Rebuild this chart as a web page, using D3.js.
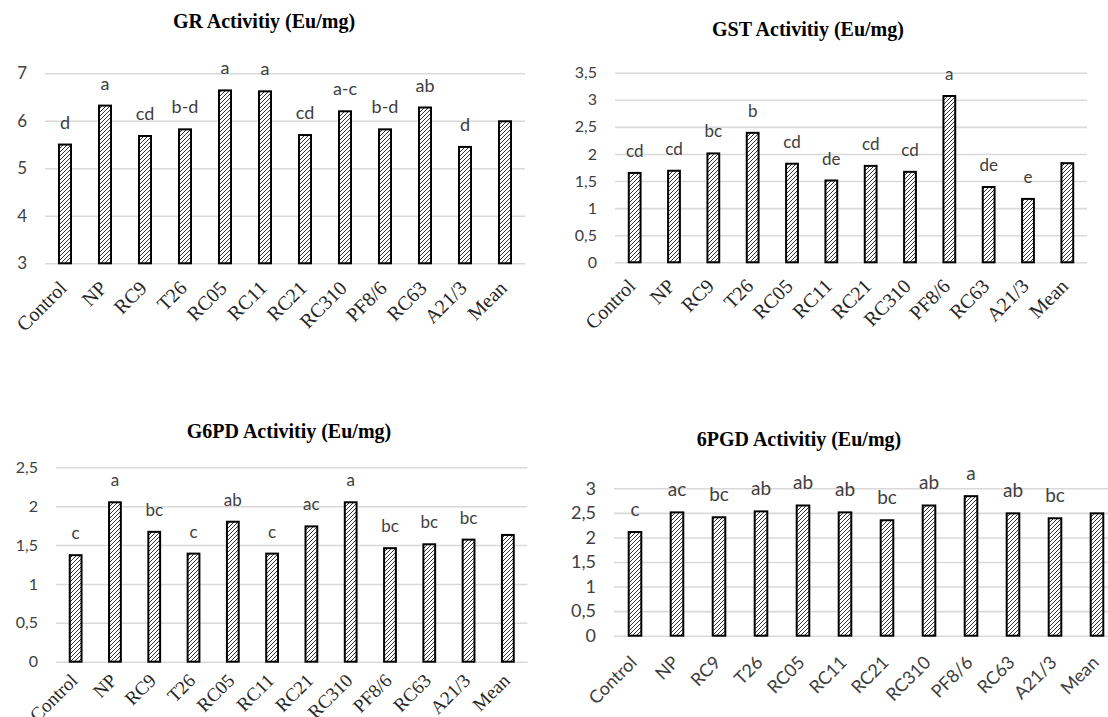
<!DOCTYPE html>
<html>
<head>
<meta charset="utf-8">
<script src="https://cdn.jsdelivr.net/npm/d3@7"></script>
<style>
  body { margin: 0; background: #fff; }
</style>
</head>
<body>
<div class="chart"></div>
<script>
// shared categories
var categories = ["Control", "NP", "RC9", "T26", "RC05", "RC11", "RC21", "RC310", "PF8/6", "RC63", "A21/3", "Mean"];

// GR
var grValues  = [5.50, 6.32, 5.68, 5.82, 6.64, 6.62, 5.70, 6.20, 5.82, 6.28, 5.45, 5.99];
var grLetters = ["d", "a", "cd", "b-d", "a", "a", "cd", "a-c", "b-d", "ab", "d", ""];
var grTicks   = [3, 4, 5, 6, 7];

// GST
var gstValues  = [1.65, 1.69, 2.01, 2.39, 1.82, 1.51, 1.78, 1.67, 3.07, 1.39, 1.17, 1.83];
var gstLetters = ["cd", "cd", "bc", "b", "cd", "de", "cd", "cd", "a", "de", "e", ""];
var gstTicks   = [0, 0.5, 1, 1.5, 2, 2.5, 3, 3.5];

// G6PD
var g6pdValues  = [1.37, 2.05, 1.67, 1.39, 1.80, 1.39, 1.74, 2.05, 1.46, 1.51, 1.57, 1.63];
var g6pdLetters = ["c", "a", "bc", "c", "ab", "c", "ac", "a", "bc", "bc", "bc", ""];
var g6pdTicks   = [0, 0.5, 1, 1.5, 2, 2.5];

// 6PGD
var pgdValues  = [2.11, 2.51, 2.41, 2.53, 2.65, 2.51, 2.35, 2.65, 2.84, 2.49, 2.39, 2.49];
var pgdLetters = ["c", "ac", "bc", "ab", "ab", "ab", "bc", "ab", "a", "ab", "bc", ""];
var pgdTicks   = [0, 0.5, 1, 1.5, 2, 2.5, 3];

var width = 1108,
    height = 717;

var serif = "'Liberation Serif', 'Times New Roman', serif",
    sans = "Lato, 'Open Sans', sans-serif";

var locale = d3.formatLocale({decimal: ",", thousands: ".", grouping: [3], currency: ["", ""]});
var fmt = locale.format(".1~f");

var svg = d3.select(".chart").append("svg")
    .attr("width", width)
    .attr("height", height);

// hatch fill used by every bar
var pat = svg.append("defs").append("pattern")
    .attr("id", "hatch")
    .attr("patternUnits", "userSpaceOnUse")
    .attr("width", 4)
    .attr("height", 4);
pat.append("rect").attr("width", 4).attr("height", 4).attr("fill", "#fff");
pat.append("path")
    .attr("d", "M-1,1 l2,-2 M0,4 l4,-4 M3,5 l2,-2")
    .attr("stroke", "#333")
    .attr("stroke-width", 1);

var panels = [
  {title: "GR Activitiy (Eu/mg)", values: grValues, letters: grLetters, ticks: grTicks,
   x0: 45, x1: 525, yBottom: 263.3, yTop: 73.3, tx: 264, ty: 28,
   yFont: 17, xFont: 20, xFamily: serif, lFont: 18, ldx: 3, ldy: 26},
  {title: "GST Activitiy (Eu/mg)", values: gstValues, letters: gstLetters, ticks: gstTicks,
   x0: 615, x1: 1087, yBottom: 262.3, yTop: 72.7, tx: 808, ty: 36,
   yFont: 16, xFont: 20, xFamily: serif, lFont: 17, ldx: 2, ldy: 25},
  {title: "G6PD Activitiy (Eu/mg)", values: g6pdValues, letters: g6pdLetters, ticks: g6pdTicks,
   x0: 56, x1: 527.5, yBottom: 661.7, yTop: 467.3, tx: 289, ty: 438,
   yFont: 16, xFont: 19, xFamily: serif, lFont: 17, ldx: 3, ldy: 20},
  {title: "6PGD Activitiy (Eu/mg)", values: pgdValues, letters: pgdLetters, ticks: pgdTicks,
   x0: 614, x1: 1118, yBottom: 635.7, yTop: 488.3, tx: 799, ty: 446,
   yFont: 18, xFont: 18, xFamily: sans, lFont: 19, ldx: 3, ldy: 28}
];

panels.forEach(function(p) {
  var g = svg.append("g");

  var x = d3.scaleBand()
      .domain(categories)
      .range([p.x0, p.x1])
      .paddingInner(0.7)
      .paddingOuter(0.35);

  var y = d3.scaleLinear()
      .domain([p.ticks[0], p.ticks[p.ticks.length - 1]])
      .range([p.yBottom, p.yTop]);

  // gridlines + y labels
  var yAxis = g.append("g")
      .attr("transform", "translate(" + p.x0 + ",0)")
      .call(d3.axisLeft(y)
        .tickValues(p.ticks)
        .tickSize(-(p.x1 - p.x0))
        .tickPadding(18)
        .tickFormat(fmt));
  yAxis.select(".domain").remove();
  yAxis.selectAll("line").attr("stroke", "#d9d9d9").attr("stroke-width", 1.6);
  yAxis.selectAll("text")
      .attr("fill", "#404040")
      .style("font-family", sans)
      .style("font-size", p.yFont + "px");

  // category labels
  var xAxis = g.append("g")
      .attr("transform", "translate(0," + p.yBottom + ")")
      .call(d3.axisBottom(x).tickSize(0));
  xAxis.select(".domain").remove();
  xAxis.selectAll("text")
      .attr("x", 0)
      .attr("y", 0)
      .attr("dy", 0)
      .attr("text-anchor", "end")
      .attr("transform", "translate(" + p.ldx + "," + p.ldy + ") rotate(-45)")
      .attr("fill", p.xFamily === sans ? "#404040" : "#262626")
      .style("font-family", p.xFamily)
      .style("font-size", p.xFont + "px");

  // bars
  g.append("g")
    .selectAll("rect")
    .data(p.values)
    .enter()
    .append("rect")
    .attr("x", function(d, i) { return x(categories[i]); })
    .attr("y", function(d) { return y(d); })
    .attr("width", x.bandwidth())
    .attr("height", function(d) { return p.yBottom - y(d); })
    .attr("fill", "url(#hatch)")
    .attr("stroke", "#000")
    .attr("stroke-width", 2);

  // significance letters
  g.append("g")
    .selectAll("text")
    .data(p.values)
    .enter()
    .append("text")
    .attr("x", function(d, i) { return x(categories[i]) + x.bandwidth() / 2; })
    .attr("y", function(d) { return y(d) - 16; })
    .attr("text-anchor", "middle")
    .attr("fill", "#404040")
    .style("font-family", sans)
    .style("font-size", p.lFont + "px")
    .text(function(d, i) { return p.letters[i]; });

  g.append("text")
    .attr("x", p.tx)
    .attr("y", p.ty)
    .attr("text-anchor", "middle")
    .attr("fill", "#000")
    .style("font-family", serif)
    .style("font-weight", "bold")
    .style("font-size", "20px")
    .text(p.title);
});
</script>
</body>
</html>
